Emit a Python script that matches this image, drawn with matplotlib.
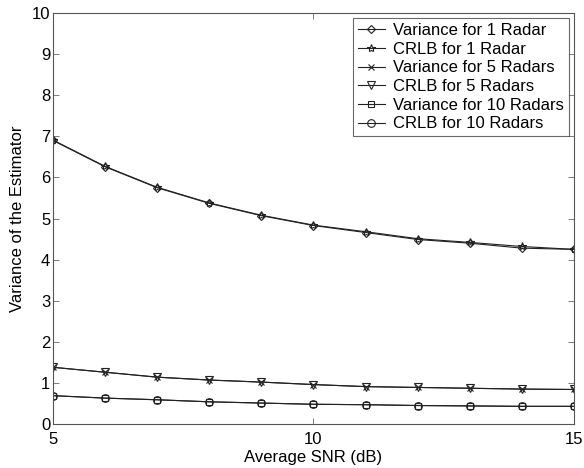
import matplotlib
matplotlib.use('Agg')
import matplotlib.pyplot as plt

plt.rcParams['font.family'] = ['Liberation Sans', 'DejaVu Sans']

snr = [5, 6, 7, 8, 9, 10, 11, 12, 13, 14, 15]

var_1 = [6.90, 6.26, 5.75, 5.37, 5.07, 4.83, 4.66, 4.49, 4.40, 4.28, 4.25]
crlb_1 = [6.91, 6.27, 5.76, 5.38, 5.08, 4.84, 4.68, 4.51, 4.42, 4.32, 4.25]
var_5 = [1.38, 1.26, 1.14, 1.07, 1.02, 0.96, 0.91, 0.89, 0.87, 0.85, 0.84]
crlb_5 = [1.38, 1.26, 1.14, 1.07, 1.02, 0.96, 0.91, 0.89, 0.87, 0.85, 0.84]
var_10 = [0.69, 0.63, 0.59, 0.54, 0.51, 0.48, 0.47, 0.45, 0.44, 0.43, 0.43]
crlb_10 = [0.69, 0.63, 0.59, 0.54, 0.51, 0.48, 0.47, 0.45, 0.44, 0.43, 0.43]

series = [
    (var_1, 'D', 4.5, 'Variance for 1 Radar'),
    (crlb_1, '*', 6, 'CRLB for 1 Radar'),
    (var_5, 'x', 4.5, 'Variance for 5 Radars'),
    (crlb_5, 'v', 6, 'CRLB for 5 Radars'),
    (var_10, 's', 5, 'Variance for 10 Radars'),
    (crlb_10, 'o', 5.5, 'CRLB for 10 Radars'),
]

fig = plt.figure(figsize=(5.84, 4.68), dpi=100)
ax = fig.add_axes([0.0908, 0.094, 0.892, 0.878])

for vals, mk, ms, lab in series:
    ax.plot(snr, vals, color='#222222', linewidth=0.8, marker=mk,
            markersize=ms, markerfacecolor='none',
            markeredgecolor='#222222', markeredgewidth=0.8, label=lab)

ax.set_xlim(5, 15)
ax.set_ylim(0, 10)
ax.set_xticks([5, 10, 15])
ax.set_yticks(range(0, 11))
ax.tick_params(direction='in', top=True, right=True, labelsize=12,
               length=4, width=0.6, color='#666666', pad=2)
ax.tick_params(axis='x', pad=5.5)
for s in ax.spines.values():
    s.set_color('#555555')
    s.set_linewidth(0.8)
ax.set_xlabel('Average SNR (dB)', fontsize=12, labelpad=2.5)
ax.set_ylabel('Variance of the Estimator', fontsize=12, labelpad=5)

leg = ax.legend(loc='upper right', fontsize=12, frameon=True, fancybox=False,
                edgecolor='#444444', handlelength=1.6, borderaxespad=0.3,
                labelspacing=0.22, handletextpad=0.5, borderpad=0.3)
leg.get_frame().set_linewidth(0.8)

fig.savefig('out.png', dpi=100)
